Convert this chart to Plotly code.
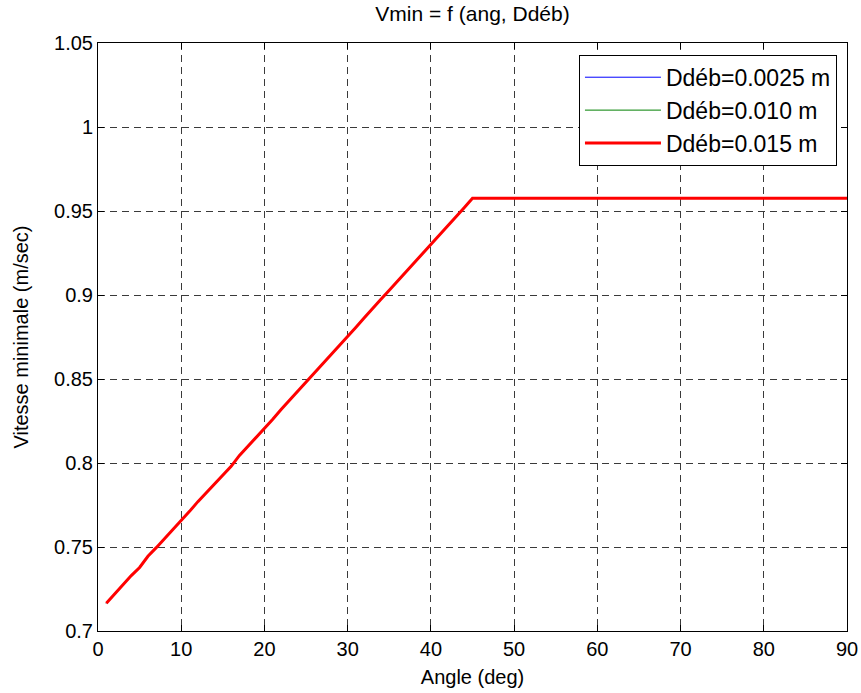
import plotly.graph_objects as go

# Data
angle_deg = [1, 2, 3, 4, 5, 6, 7, 8, 9, 10,
             11, 12, 13, 14, 15, 16, 17, 18, 19, 20,
             21, 22, 23, 24, 25, 26, 27, 28, 29, 30,
             31, 32, 33, 34, 35, 36, 37, 38, 39, 40,
             41, 42, 43, 44, 45, 50, 60, 70, 80, 90]
vmin_15 = [0.7165, 0.7222, 0.7278, 0.7330, 0.7378, 0.7445, 0.7496, 0.7549, 0.7603, 0.7656,
           0.7712, 0.7770, 0.7823, 0.7875, 0.7929, 0.7980, 0.8045, 0.8098, 0.8151, 0.8205,
           0.8260, 0.8318, 0.8372, 0.8424, 0.8478, 0.8533, 0.8590, 0.8646, 0.8698, 0.8752,
           0.8808, 0.8864, 0.8921, 0.8974, 0.9028, 0.9082, 0.9138, 0.9192, 0.9246, 0.9300,
           0.9355, 0.9412, 0.9466, 0.9520, 0.9576, 0.9576, 0.9576, 0.9576, 0.9576, 0.9576]
vmin_0025 = list(vmin_15)
vmin_010 = list(vmin_15)

series_names = ["Ddéb=0.0025 m", "Ddéb=0.010 m", "Ddéb=0.015 m"]
series_values = [vmin_0025, vmin_010, vmin_15]
series_colors = ["#0000ff", "#008000", "#ff0000"]
series_widths = [1, 1, 3]

x_ticks = [0, 10, 20, 30, 40, 50, 60, 70, 80, 90]
y_ticks = [0.7, 0.75, 0.8, 0.85, 0.9, 0.95, 1.0, 1.05]
y_tick_text = ["0.7", "0.75", "0.8", "0.85", "0.9", "0.95", "1", "1.05"]

FONT = "Liberation Sans, Arial, Helvetica, sans-serif"

fig = go.Figure()
for name, vals, col, w in zip(series_names, series_values, series_colors, series_widths):
    fig.add_trace(go.Scatter(x=angle_deg, y=vals, mode="lines", name=name,
                             line=dict(color=col, width=w)))

axis_common = dict(
    showline=True, linecolor="black", linewidth=1, mirror="allticks",
    ticks="inside", ticklen=6, tickcolor="black", tickwidth=1,
    showgrid=True, gridcolor="#3a3a3a", gridwidth=1, griddash="7px,5px",
    zeroline=False, automargin=False,
    tickfont=dict(family=FONT, size=20, color="black"),
)

fig.update_layout(
    width=861, height=693,
    margin=dict(l=98, r=14, t=43, b=62, autoexpand=False),
    paper_bgcolor="white", plot_bgcolor="white",
    font=dict(family=FONT, size=20, color="black"),
    title=dict(text="Vmin = f (ang, Ddéb)", x=0.5488, xanchor="center",
               y=0.981, yanchor="middle", font=dict(family=FONT, size=21)),
    xaxis=dict(range=[0, 90], tickvals=x_ticks,
               title=dict(text="Angle (deg)", standoff=10, font=dict(size=20)),
               **axis_common),
    yaxis=dict(range=[0.7, 1.05], tickvals=y_ticks, ticktext=y_tick_text,
               title=dict(text="Vitesse minimale (m/sec)", standoff=20, font=dict(size=20)),
               **axis_common),
    legend=dict(x=0.9866, xanchor="right", y=0.98, yanchor="top",
                bgcolor="white", bordercolor="black", borderwidth=1,
                font=dict(family=FONT, size=23), itemwidth=76),
    showlegend=True,
)

fig.write_html("out.html")
